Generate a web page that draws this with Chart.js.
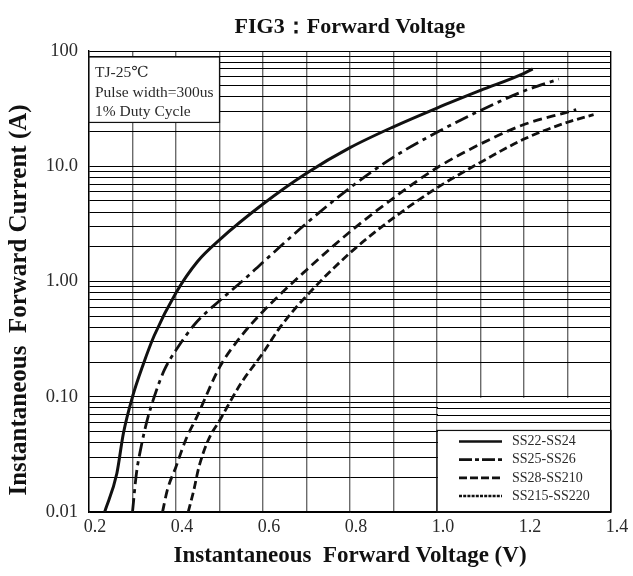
<!DOCTYPE html>
<html>
<head>
<meta charset="utf-8">
<title>FIG3 Forward Voltage</title>
<script src="https://cdn.jsdelivr.net/npm/chart.js@4.4.1/dist/chart.umd.min.js"></script>
<style>
  html, body { margin: 0; padding: 0; background: #fff; }
  #fig { display: block; }
</style>
</head>
<body>
<canvas id="fig" width="633" height="576"></canvas>
<script>
'use strict';

// Series names and data (V, A)
const seriesNames = ['SS22-SS24', 'SS25-SS26', 'SS28-SS210', 'SS215-SS220'];

const vfSS22 = [0.236, 0.264, 0.279, 0.3, 0.324, 0.35, 0.4, 0.45, 0.5, 0.6, 0.7, 0.8, 0.9, 1.0, 1.1, 1.2, 1.22];
const ifSS22 = [0.01, 0.0216, 0.048, 0.1, 0.188, 0.34, 0.8, 1.5, 2.3, 4.7, 8.7, 14.5, 22, 32, 45.5, 64, 70];

const vfSS25 = [0.3, 0.309, 0.32, 0.332, 0.35, 0.373, 0.4, 0.444, 0.5, 0.559, 0.6, 0.7, 0.8, 0.9, 1.0, 1.1, 1.2, 1.28];
const ifSS25 = [0.01, 0.0216, 0.037, 0.059, 0.1, 0.17, 0.254, 0.43, 0.68, 1.06, 1.47, 3.2, 6.5, 12, 19.7, 30.5, 45, 57];

const vfSS28 = [0.369, 0.38, 0.4, 0.422, 0.448, 0.5, 0.551, 0.6, 0.7, 0.8, 0.9, 1.0, 1.1, 1.2, 1.3, 1.32];
const ifSS28 = [0.01, 0.0155, 0.0247, 0.042, 0.067, 0.18, 0.34, 0.55, 1.26, 2.7, 5.3, 9.7, 15.6, 23, 29.5, 31];

const vfSS215 = [0.428, 0.441, 0.452, 0.474, 0.5, 0.549, 0.6, 0.639, 0.7, 0.8, 0.9, 1.0, 1.1, 1.2, 1.3, 1.36];
const ifSS215 = [0.01, 0.0155, 0.024, 0.042, 0.062, 0.13, 0.24, 0.4, 0.75, 1.77, 3.56, 6.5, 10.8, 17.2, 24.1, 28];

// Tick labels
const voltTicks = ['0.2', '0.4', '0.6', '0.8', '1.0', '1.2', '1.4'];
const currentDecades = [0.01, 0.1, 1, 10, 100];
const currentTicks = ['0.01', '0.10', '1.00', '10.0', '100'];

// Texts
const chartTitle = 'FIG3\uFF1AForward Voltage';
const voltTitle = 'Instantaneous  Forward Voltage (V)';
const currentTitle = 'Instantaneous  Forward Current (A)';
const noteLines = ['TJ-25\u2103', 'Pulse width=300us', '1% Duty Cycle'];

// Styles
const inkColor = '#111',
  textColor = '#2a2a2a',
  vGridColor = '#6b6b6b',
  hGridColor = '#000',
  serif = '"Liberation Serif", "DejaVu Serif", serif';
const lineDashes = [[], [14, 5, 4, 5], [9, 5], [8, 4]];
const legendDashes = [[], [13, 3, 4, 3], [8, 3], [3, 1.2]];

const pairs = (xs, ys) => xs.map((v, i) => ({ x: v, y: ys[i] }));
const seriesData = [
  pairs(vfSS22, ifSS22),
  pairs(vfSS25, ifSS25),
  pairs(vfSS28, ifSS28),
  pairs(vfSS215, ifSS215)
];

// Note box (top left) and legend box (bottom right), drawn over the grid
const boxesPlugin = {
  id: 'boxes',
  beforeDatasetsDraw(chart) {
    const { ctx, chartArea: a, scales: { x, y } } = chart;
    ctx.save();

    // note box
    const nRight = x.getPixelForValue(0.5);
    const nTop = a.top + 6;
    const nBottom = y.getPixelForValue(24);
    ctx.fillStyle = '#fff';
    ctx.fillRect(a.left, nTop, nRight - a.left, nBottom - nTop);
    ctx.strokeStyle = inkColor;
    ctx.lineWidth = 1.2;
    ctx.strokeRect(a.left, nTop, nRight - a.left, nBottom - nTop);
    ctx.fillStyle = textColor;
    ctx.font = '15.5px ' + serif;
    ctx.textBaseline = 'middle';
    ctx.textAlign = 'left';
    noteLines.forEach((t, i) => ctx.fillText(t, a.left + 6, nTop + 16 + i * 19.5));

    // clear vertical grid in the lower right corner
    const lLeft = x.getPixelForValue(1.0);
    const clearTop = y.getPixelForValue(0.1);
    const lTop = y.getPixelForValue(0.051);
    ctx.fillStyle = '#fff';
    ctx.fillRect(lLeft + 1, clearTop + 1, a.right - lLeft - 2, a.bottom - clearTop - 2);
    ctx.strokeStyle = hGridColor;
    ctx.lineWidth = 1;
    y.ticks.forEach(t => {
      if (t.value > 0.051 && t.value < 0.1) {
        const py = Math.round(y.getPixelForValue(t.value)) + 0.5;
        ctx.beginPath();
        ctx.moveTo(lLeft, py);
        ctx.lineTo(a.right, py);
        ctx.stroke();
      }
    });

    // legend box
    ctx.strokeStyle = inkColor;
    ctx.lineWidth = 1.2;
    ctx.strokeRect(lLeft, lTop, a.right - lLeft, a.bottom - lTop);
    ctx.font = '14px ' + serif;
    chart.data.datasets.forEach((ds, i) => {
      const ry = lTop + 11 + i * 18.2;
      ctx.strokeStyle = inkColor;
      ctx.lineWidth = 2.6;
      ctx.setLineDash(legendDashes[i]);
      ctx.beginPath();
      ctx.moveTo(lLeft + 22, ry);
      ctx.lineTo(lLeft + 65, ry);
      ctx.stroke();
      ctx.setLineDash([]);
      ctx.fillStyle = textColor;
      ctx.fillText(ds.label, lLeft + 75, ry);
    });
    ctx.restore();
  },
  afterDraw(chart) {
    // vertical axis title, placed as in the datasheet
    const { ctx } = chart;
    ctx.save();
    ctx.translate(20, 300);
    ctx.rotate(-Math.PI / 2);
    ctx.fillStyle = inkColor;
    ctx.font = 'bold 25px ' + serif;
    ctx.textAlign = 'center';
    ctx.textBaseline = 'middle';
    ctx.fillText(currentTitle, 0, 0);
    ctx.restore();
  }
};

const fig = document.getElementById('fig');
new Chart(fig, {
  type: 'line',
  data: {
    datasets: seriesData.map((pts, i) => ({
      label: seriesNames[i],
      data: pts,
      borderColor: inkColor,
      borderWidth: i === 0 ? 3 : 2.8,
      borderDash: lineDashes[i],
      pointRadius: 0,
      fill: false,
      cubicInterpolationMode: 'monotone'
    }))
  },
  options: {
    responsive: false,
    animation: false,
    devicePixelRatio: 1,
    layout: { padding: { left: 0, right: 22, top: 0, bottom: 0 } },
    plugins: {
      legend: { display: false },
      tooltip: { enabled: false },
      title: {
        display: true,
        fullSize: false,
        text: chartTitle,
        color: inkColor,
        font: { family: serif, size: 22, weight: 'bold' },
        padding: { top: 14, bottom: 10.6 }
      }
    },
    scales: {
      x: {
        type: 'linear',
        min: 0.2,
        max: 1.4,
        afterFit: s => { s.height = 64; },
        ticks: {
          stepSize: 0.1,
          autoSkip: false,
          maxRotation: 0,
          labelOffset: 6,
          padding: 4,
          color: textColor,
          font: { family: serif, size: 18 },
          callback: v => {
            const s = v.toFixed(1);
            return voltTicks.includes(s) ? s : '';
          }
        },
        grid: {
          drawTicks: false,
          color: c => (c.index === 12 ? hGridColor : vGridColor),
          lineWidth: 1.4
        },
        border: { color: hGridColor, width: 1.4 },
        title: {
          display: true,
          text: voltTitle,
          color: inkColor,
          font: { family: serif, size: 23, weight: 'bold' },
          padding: { top: 0, bottom: 6 }
        }
      },
      y: {
        type: 'logarithmic',
        min: 0.01,
        max: 100,
        afterFit: s => { s.width = 89; },
        afterBuildTicks: s => {
          const vals = [];
          currentDecades.forEach(d => {
            if (d === 100) { vals.push(100); return; }
            for (let m = 1; m <= 9; m++) vals.push(+(d * m).toPrecision(3));
          });
          s.ticks = vals.map(v => ({ value: v }));
        },
        ticks: {
          autoSkip: false,
          padding: 11,
          color: textColor,
          font: { family: serif, size: 18.5 },
          callback: v => {
            const k = currentDecades.findIndex(d => Math.abs(d - v) < d * 1e-6);
            return k >= 0 ? currentTicks[k] : '';
          }
        },
        grid: {
          drawTicks: false,
          color: hGridColor,
          lineWidth: 1
        },
        border: { color: hGridColor, width: 1.4 }
      }
    }
  },
  plugins: [boxesPlugin]
});
</script>
</body>
</html>
